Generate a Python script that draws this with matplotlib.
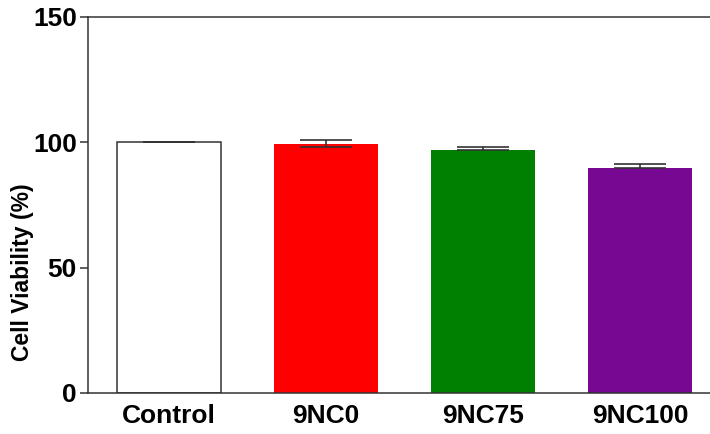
import matplotlib
matplotlib.use("Agg")
import matplotlib.pyplot as plt

categories = ["Control", "9NC0", "9NC75", "9NC100"]
values = [100.0, 99.5, 96.9, 89.7]
err_low = [0.0, 1.3, 0.0, 0.0]
err_high = [0.0, 1.3, 1.4, 1.6]
colors = ["#ffffff", "#ff0000", "#008000", "#770891"]
yticks = [0, 50, 100, 150]

plt.rcParams['font.family'] = ['Liberation Sans', 'DejaVu Sans']
fig = plt.figure(figsize=(7.1, 4.34), dpi=100)
ax = fig.add_axes([88/710, 1-393/434, 1-88/710, (393-17)/434])

x = list(range(len(categories)))
ax.bar(x, values, width=0.66, color=colors, edgecolor=["#333333", "none", "none", "none"],
       linewidth=1.1, zorder=2)
ax.errorbar(x, values, yerr=[err_low, err_high], fmt="none", ecolor="#333333",
            elinewidth=1.2, capsize=18.5, capthick=1.2, zorder=3)

ax.set_xlim(-0.516, 3.446)
ax.set_ylim(0, 150)
ax.set_yticks(yticks)
ax.set_xticks(x)
ax.set_xticklabels(categories, fontsize=19, fontweight="bold")
ax.set_yticklabels([str(t) for t in yticks], fontsize=19, fontweight="bold")
ax.set_ylabel("Cell Viability (%)", fontsize=16.5, fontweight="bold")
ax.yaxis.set_label_coords(-0.087, 0.32)

for s in ["left", "bottom", "top"]:
    ax.spines[s].set_color("#333333")
    ax.spines[s].set_linewidth(1.1)
ax.spines["right"].set_visible(False)
ax.tick_params(axis="y", length=6, width=1.1, color="#333333", pad=2)
ax.tick_params(axis="x", length=0, pad=8)

fig.savefig("out.png", dpi=100)
